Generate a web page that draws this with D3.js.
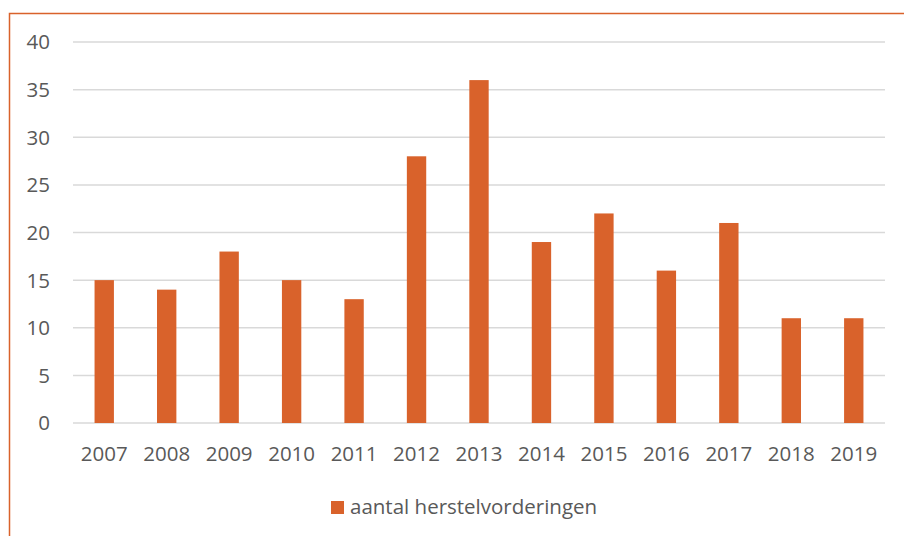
<!DOCTYPE html>
<html>
<head>
<meta charset="utf-8">
<script src="https://cdn.jsdelivr.net/npm/d3@7"></script>
<style>
  body { margin: 0; background: #fff; }
  text { font-family: "Open Sans", sans-serif; fill: #595959; }
</style>
</head>
<body>
<svg width="904" height="536"></svg>
<script>
var years = ["2007", "2008", "2009", "2010", "2011", "2012", "2013", "2014", "2015", "2016", "2017", "2018", "2019"];
var counts = [15, 14, 18, 15, 13, 28, 36, 19, 22, 16, 21, 11, 11];
var yTicks = [0, 5, 10, 15, 20, 25, 30, 35, 40];
var seriesName = "aantal herstelvorderingen";

var svg = d3.select("svg");
var orange = "#d9622b";
var fontSize = "20.5px";

// frame (left + top only)
svg.append("path")
  .attr("d", "M9.5,536 L9.5,13.5 L904,13.5")
  .attr("fill", "none")
  .attr("stroke", orange)
  .attr("stroke-width", 1.5);

var x = d3.scaleBand().domain(years).range([73, 885]).paddingInner(0.69).paddingOuter(0.345);
var y = d3.scaleLinear().domain([0, 40]).range([423, 42]);

// gridlines
svg.append("g")
  .selectAll("line")
  .data(yTicks)
  .enter().append("line")
  .attr("x1", 73)
  .attr("x2", 885)
  .attr("y1", function(d) { return y(d); })
  .attr("y2", function(d) { return y(d); })
  .attr("stroke", "#d9d9d9")
  .attr("stroke-width", 1.5);

// y labels
svg.append("g")
  .selectAll("text")
  .data(yTicks)
  .enter().append("text")
  .attr("x", 50)
  .attr("y", function(d) { return y(d); })
  .attr("dy", "0.36em")
  .attr("text-anchor", "end")
  .style("font-size", fontSize)
  .text(function(d) { return d; });

// bars
svg.append("g")
  .selectAll("rect")
  .data(counts)
  .enter().append("rect")
  .attr("x", function(d, i) { return x(years[i]); })
  .attr("y", function(d) { return y(d); })
  .attr("width", x.bandwidth())
  .attr("height", function(d) { return y(0) - y(d); })
  .attr("fill", orange);

// x labels
svg.append("g")
  .selectAll("text")
  .data(years)
  .enter().append("text")
  .attr("x", function(d) { return x(d) + x.bandwidth() / 2; })
  .attr("y", 461)
  .attr("text-anchor", "middle")
  .style("font-size", fontSize)
  .text(function(d) { return d; });

// legend
svg.append("rect")
  .attr("x", 331).attr("y", 501)
  .attr("width", 13).attr("height", 13)
  .attr("fill", orange);
svg.append("text")
  .attr("x", 350).attr("y", 514)
  .style("font-size", fontSize)
  .text(seriesName);
</script>
</body>
</html>
